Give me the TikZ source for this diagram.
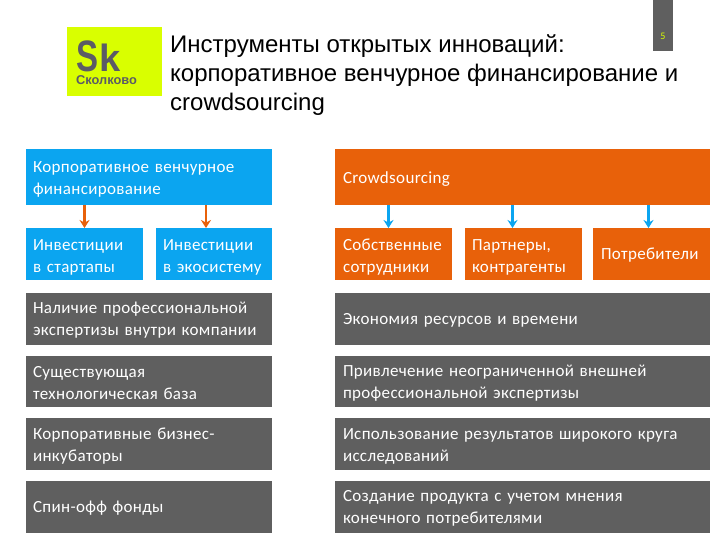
\documentclass[tikz,border=0pt]{standalone}
\usepackage{xcolor}
\usepackage{fontspec}
\setmainfont[LetterSpace=2]{Carlito}
\newfontfamily\titlefont{Liberation Sans}
\usetikzlibrary{arrows.meta, positioning}
\definecolor{skyblue}{HTML}{0BA5F0}
\definecolor{rust}{HTML}{E8610A}
\definecolor{slate}{HTML}{5F5F5F}
\definecolor{lime}{HTML}{D9FF00}
\definecolor{inkgray}{HTML}{5B5B66}
\begin{document}
\begin{tikzpicture}[
    x=1pt, y=-1pt,
    box/.style={rectangle, outer sep=0pt, inner xsep=7pt, inner ysep=0pt, minimum height=51.5pt, align=left, text=white, font=\fontsize{17}{22}\selectfont, execute at begin node={\rule{0pt}{15pt}}},
    bluebox/.style={box, fill=skyblue},
    orangebox/.style={box, fill=rust},
    graybox/.style={box, fill=slate},
    head/.style={minimum height=56pt},
    low/.style={execute at begin node={\rule{0pt}{18pt}}},
    wide/.style={inner xsep=8pt},
    logotext/.style={anchor=base west, inner sep=0pt, text=inkgray},
    arrO/.style={-{Stealth[length=8pt, width=10pt]}, line width=2.7pt, rust},
    arrB/.style={-{Stealth[length=8pt, width=10pt]}, line width=2.7pt, skyblue},
  ]
    \useasboundingbox (0,0) rectangle (720,540);
    \node[rectangle, fill=lime, minimum width=95pt, minimum height=69pt, inner sep=0pt] (logo) at (114.5,61.5) {};
    \node[logotext, xscale=0.75, font=\titlefont\bfseries\fontsize{44}{44}\selectfont] (logoS) at (76,72) {S};
    \node[logotext, font=\titlefont\bfseries\fontsize{38}{38}\selectfont] (logoK) at (99,72) {k};
    \node[logotext, font=\titlefont\bfseries\fontsize{12.8}{13}\selectfont] (logoT) at (76,85) {Сколково};
    \node[anchor=north west, inner sep=0pt, align=left, text=black, font=\titlefont\fontsize{24}{29}\selectfont] (title) at (170,34.5) {Инструменты открытых инноваций:\\корпоративное венчурное финансирование и\\crowdsourcing};
    \node[rectangle, fill=slate, minimum width=20pt, minimum height=51pt, inner sep=0pt] (pagebox) at (663,25.5) {};
    \node[text=lime, inner sep=0pt, font=\fontsize{10}{10}\selectfont] (pagenum) at (663,36) {5};

    \node[bluebox, head, anchor=north west, text width=232pt] (vc) at (26,149) {Корпоративное венчурное\\финансирование};
    \node[bluebox, low, text width=103pt, below=23pt of vc.south west, anchor=north west] (invA) {Инвестиции\\в стартапы};
    \node[bluebox, low, text width=102pt, below=23pt of vc.south east, anchor=north east] (invB) {Инвестиции\\в экосистему};
    \node[graybox, text width=232pt, below=13.5pt of invA.south west, anchor=north west] (expA) {Наличие профессиональной\\экспертизы внутри компании};
    \node[graybox, text width=232pt, below=11.2pt of expA] (baseA) {Существующая\\технологическая база};
    \node[graybox, text width=232pt, below=11.2pt of baseA] (incA) {Корпоративные бизнес-\\инкубаторы};
    \node[graybox, text width=232pt, below=11.2pt of incA] (fundA) {Спин-офф фонды};

    \node[orangebox, head, wide, anchor=north west, text width=359pt] (crowd) at (335,149) {Crowdsourcing};
    \node[orangebox, low, wide, text width=101pt, below=23pt of crowd.south west, anchor=north west] (staff) {Собственные\\сотрудники};
    \node[orangebox, low, text width=103pt, right=13pt of staff] (partner) {Партнеры,\\контрагенты};
    \node[orangebox, text width=103pt, below=23pt of crowd.south east, anchor=north east] (user) {\hspace*{1pt}Потребители};
    \node[graybox, wide, text width=359pt, below=13.5pt of staff.south west, anchor=north west] (expB) {Экономия ресурсов и времени};
    \node[graybox, wide, text width=359pt, below=11.2pt of expB] (baseB) {Привлечение неограниченной внешней\\профессиональной экспертизы};
    \node[graybox, wide, text width=359pt, below=11.2pt of baseB] (incB) {Использование результатов широкого круга\\исследований};
    \node[graybox, wide, text width=359pt, below=11.2pt of incB] (fundB) {Создание продукта с учетом мнения\\конечного потребителями};

    \coordinate (tipA) at (invA.north);
    \coordinate (tipB) at ([xshift=-8pt]invB.north);
    \coordinate (tipC) at ([xshift=-5pt]staff.north);
    \coordinate (tipD) at ([xshift=-11pt]partner.north);
    \coordinate (tipE) at ([xshift=-3pt]user.north);
    \draw[arrO] (vc.south -| tipA) -- (tipA);
    \draw[arrO] (vc.south -| tipB) -- (tipB);
    \draw[arrB] (crowd.south -| tipC) -- (tipC);
    \draw[arrB] (crowd.south -| tipD) -- (tipD);
    \draw[arrB] (crowd.south -| tipE) -- (tipE);
\end{tikzpicture}
\end{document}
